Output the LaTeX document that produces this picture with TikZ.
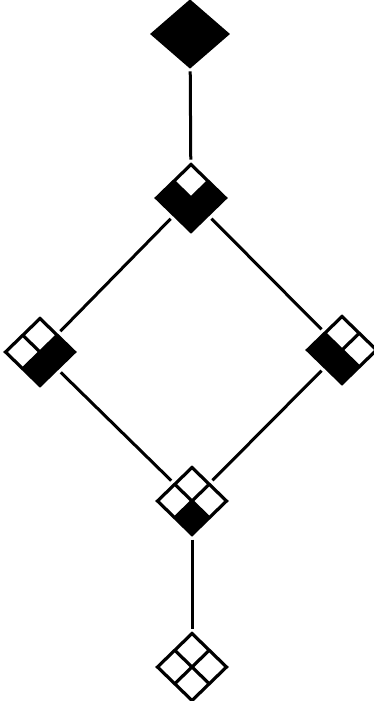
\documentclass[tikz,border=0pt]{standalone}
\usetikzlibrary{shapes.geometric,calc}
\tikzset{
  glyphshape/.style={diamond, minimum width=66pt, minimum height=64pt, inner sep=0pt, outer sep=1.5pt},
  wideglyph/.style={minimum width=72pt, minimum height=62pt},
  glyphline/.style={line width=3.2pt, line join=miter, draw=black},
  link/.style={line width=3pt, shorten <=5pt, shorten >=5pt}
}
\newcommand\glyph[7][]{%
  \node[glyphshape,#1] (#2) at (#3) {};
  \path (#2.north) coordinate (#2-n) (#2.south) coordinate (#2-s)
        (#2.east) coordinate (#2-e) (#2.west) coordinate (#2-w)
        (#2.center) coordinate (#2-c);
  \fill[#4] (#2-n) -- ($(#2-n)!.5!(#2-e)$) -- (#2-c) -- ($(#2-n)!.5!(#2-w)$) -- cycle;
  \fill[#5] (#2-w) -- ($(#2-w)!.5!(#2-n)$) -- (#2-c) -- ($(#2-w)!.5!(#2-s)$) -- cycle;
  \fill[#6] (#2-e) -- ($(#2-e)!.5!(#2-n)$) -- (#2-c) -- ($(#2-e)!.5!(#2-s)$) -- cycle;
  \fill[#7] (#2-s) -- ($(#2-s)!.5!(#2-e)$) -- (#2-c) -- ($(#2-s)!.5!(#2-w)$) -- cycle;
  \draw[glyphline] (#2-n) -- (#2-e) -- (#2-s) -- (#2-w) -- cycle;
  \draw[glyphline] ($(#2-n)!.5!(#2-w)$) -- ($(#2-e)!.5!(#2-s)$);
  \draw[glyphline] ($(#2-n)!.5!(#2-e)$) -- ($(#2-w)!.5!(#2-s)$);
}
\begin{document}
\begin{tikzpicture}[x=1pt,y=-1pt]
  \useasboundingbox (0,0) rectangle (373,701);
  \glyph[wideglyph]{g1}{190,34}{black}{black}{black}{black}
  \glyph{g2}{191,198}{white}{black}{black}{black}
  \glyph{g3}{40,352}{white}{white}{black}{black}
  \glyph{g4}{342,350}{white}{black}{white}{black}
  \glyph{g5}{192,501}{white}{white}{white}{black}
  \glyph{g6}{192,667}{white}{white}{white}{white}
  \draw[link] (g1) -- (g2);
  \draw[link] (g2) -- (g3);
  \draw[link] (g2) -- (g4);
  \draw[link] (g3) -- (g5);
  \draw[link] (g4) -- (g5);
  \draw[link] (g5) -- (g6);
\end{tikzpicture}
\end{document}
